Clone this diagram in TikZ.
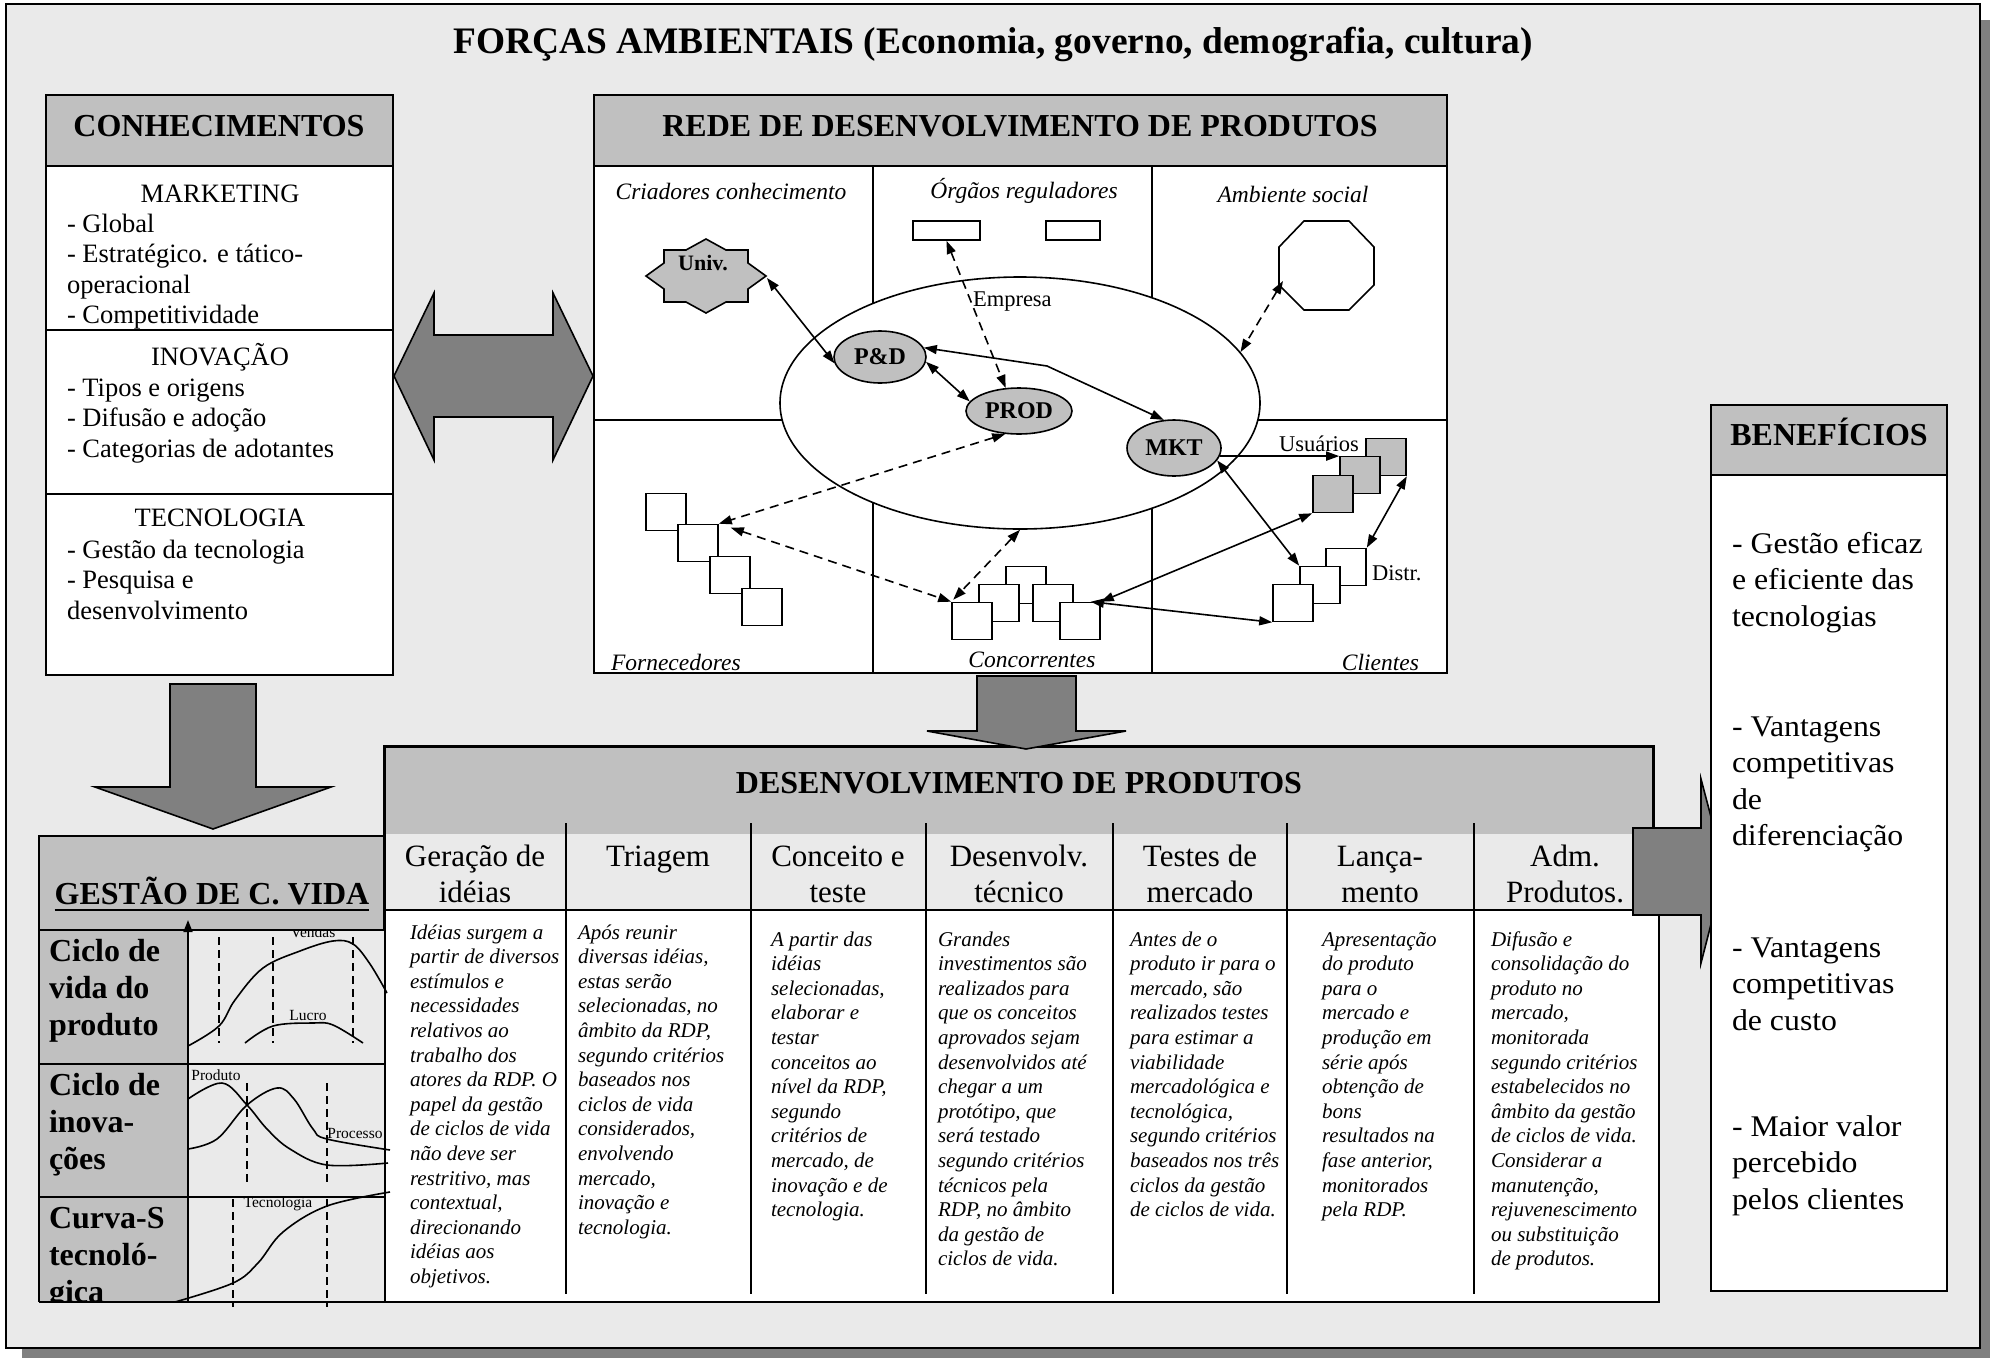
\documentclass[tikz,border=0pt]{standalone}
\usepackage{fontspec}
\setmainfont{Liberation Serif}
\newfontfamily\widefont[FakeStretch=1.06]{Liberation Serif}
\usetikzlibrary{shapes.geometric,arrows.meta,calc}
\definecolor{panel}{HTML}{EAEAEA}
\definecolor{headgray}{HTML}{C0C0C0}
\definecolor{darkfill}{HTML}{808080}
\newcommand\stk[1]{\begin{tabular}[t]{@{}l@{}}#1\end{tabular}}
\newcommand\cstk[1]{\begin{tabular}[t]{@{}c@{}}#1\end{tabular}}
\newcommand\fTitle{\fontsize{37.4}{40}\selectfont\bfseries}
\newcommand\fHead{\fontsize{32}{36}\selectfont\bfseries}
\newcommand\fSec{\fontsize{26.5}{30.5}\selectfont}
\newcommand\fCell{\fontsize{23.5}{27}\selectfont\itshape}
\newcommand\fNode{\fontsize{24}{26}\selectfont\bfseries}
\newcommand\fSmall{\fontsize{22.5}{26}\selectfont}
\newcommand\fPhase{\fontsize{31}{36}\selectfont}
\newcommand\fBody{\fontsize{21}{24.6}\selectfont\itshape}
\newcommand\fRow{\fontsize{32}{37}\selectfont\bfseries}
\newcommand\fChart{\fontsize{15.5}{17}\selectfont}
\newcommand\fBen{\widefont\fontsize{30}{36.5}\selectfont}
\begin{document}
\begin{tikzpicture}[x=1pt,y=-1pt,
  box/.style={draw=black,line width=1.6pt},
  hdr/.style={box,fill=headgray},
  fatarrow/.style={draw=black,line width=1.6pt,fill=darkfill,line join=miter},
  txt/.style={inner sep=0pt,outer sep=0pt},
  >={Triangle[length=13pt,width=9pt]},
  link/.style={line width=1.6pt,<->},
  dlink/.style={link,dash pattern=on 9pt off 6pt},
  sq/.style={draw,fill=white,line width=1.6pt,minimum width=40pt,minimum height=37pt,inner sep=0pt},
  gsq/.style={sq,fill=headgray},
  org/.style={ellipse,draw,fill=headgray,line width=1.6pt,inner sep=0pt,font=\fNode},
  vdash/.style={line width=1.6pt,dash pattern=on 8pt off 5pt},
  chartline/.style={line width=1.6pt}]
\useasboundingbox (0,0) rectangle (1990,1358);
\fill[white] (0,0) rectangle (1990,1358);
% drop shadow and outer panel
\fill[darkfill] (22,20) rectangle (1990,1358);
\draw[fill=panel,line width=2pt] (6,4) rectangle (1980,1348);
\node[txt,anchor=base,font=\fTitle] (title) at (993,53) {FORÇAS AMBIENTAIS (Economia, governo, demografia, cultura)};

% ---------------- CONHECIMENTOS ----------------
\draw[box,fill=white] (46,166) rectangle (393,675);
\draw[hdr] (46,95) rectangle (393,166);
\node[txt,anchor=base,font=\fHead] (knowhead) at (219,136) {CONHECIMENTOS};
\draw[box] (46,330) -- (393,330) (46,494) -- (393,494);
\node[txt,anchor=base,font=\fSec] (mkth) at (220,202) {MARKETING};
\node[txt,anchor=base west,font=\fSec] (mktl) at (67,232) {\stk{- Global\\- Estratégico. e tático-\\operacional\\- Competitividade}};
\node[txt,anchor=base,font=\fSec] (inovh) at (220,365) {INOVAÇÃO};
\node[txt,anchor=base west,font=\fSec] (inovl) at (67,396) {\stk{- Tipos e origens\\- Difusão e adoção\\- Categorias de adotantes}};
\node[txt,anchor=base,font=\fSec] (tech) at (220,526) {TECNOLOGIA};
\node[txt,anchor=base west,font=\fSec] (tecl) at (67,558) {\stk{- Gestão da tecnologia\\- Pesquisa e\\desenvolvimento}};

% two-way block arrow
\draw[fatarrow] (394,376) -- (434,293) -- (434,335) -- (553,335) -- (553,293) -- (593,376)
  -- (553,460) -- (553,417) -- (434,417) -- (434,460) -- cycle;
% block arrow down to life cycle management
\draw[fatarrow] (170,684) -- (256,684) -- (256,787) -- (331,787) -- (213,829) -- (95,787) -- (170,787) -- cycle;

% ---------------- REDE ----------------
\draw[box,fill=white] (594,166) rectangle (1447,673);
\draw[hdr] (594,95) rectangle (1447,166);
\node[txt,anchor=base,font=\fHead] (redehead) at (1020,136) {REDE DE DESENVOLVIMENTO DE PRODUTOS};
\draw[box] (594,420) -- (1447,420) (873,166) -- (873,673) (1152,166) -- (1152,673);
\node[ellipse,draw,fill=white,line width=1.6pt,inner sep=0pt,minimum width=480pt,minimum height=252pt] (firm) at (1020,403) {};
\node[txt,anchor=base west,font=\fSmall] (firmlbl) at (973,306) {Empresa};

\node[txt,anchor=base,font=\fCell] (cellA) at (731,199) {Criadores conhecimento};
\node[txt,anchor=base,font=\fCell] (cellB) at (1024,198) {Órgãos reguladores};
\node[txt,anchor=base,font=\fCell] (cellC) at (1293,202) {Ambiente social};
\node[txt,anchor=base west,font=\fCell] (cellD) at (611,670) {Fornecedores};
\node[txt,anchor=base,font=\fCell] (cellE) at (1032,667) {Concorrentes};
\node[txt,anchor=base east,font=\fCell] (cellF) at (1419,670) {Clientes};

% university (eight-point star)
\draw[line width=1.6pt,fill=headgray,shift={(706,276)}] (0,-37) -- (20,-26) -- (42,-26) -- (42,-13) -- (60,0)
  -- (42,13) -- (42,26) -- (20,26) -- (0,37) -- (-20,26) -- (-42,26) -- (-42,13) -- (-60,0)
  -- (-42,-13) -- (-42,-26) -- (-20,-26) -- cycle;
\node[txt,font=\fontsize{22}{24}\selectfont\bfseries] (univ) at (703,263) {Univ.};
\coordinate (univE) at (767,278);

% regulators
\node[sq,minimum width=67pt,minimum height=19pt] (reg1) at (946.5,230.5) {};
\node[sq,minimum width=54pt,minimum height=19pt] (reg2) at (1073,230.5) {};

% social environment (octagon)
\draw[line width=1.6pt,fill=white] (1304,221) -- (1349,221) -- (1374,247) -- (1374,285) -- (1349,310)
  -- (1304,310) -- (1279,285) -- (1279,247) -- cycle;
\coordinate (soc) at (1283,281);

% suppliers
\node[sq] (f1) at (666,512) {};
\node[sq] (f2) at (698,543) {};
\node[sq] (f3) at (730,575) {};
\node[sq] (f4) at (762,607) {};
% competitors
\node[sq] (c1) at (1026,585) {};
\node[sq] (c2) at (999,603) {};
\node[sq] (c3) at (1053,603) {};
\node[sq] (c4) at (972,621) {};
\node[sq] (c5) at (1080,621) {};
% distributors
\node[sq] (d1) at (1346,567) {};
\node[sq] (d2) at (1320,585) {};
\node[sq] (d3) at (1293,603) {};
\node[txt,anchor=base west,font=\fSmall] (distlbl) at (1372,580) {Distr.};
% users
\node[gsq] (u1) at (1386,457) {};
\node[gsq] (u2) at (1360,475) {};
\node[gsq] (u3) at (1333,494) {};
\node[txt,anchor=base west,font=\fSmall] (userlbl) at (1279,451) {Usuários};

% company functions
\node[org,minimum width=92pt,minimum height=52pt] (pd) at (880,357) {P\&D};
\node[org,minimum width=106pt,minimum height=46pt] (prod) at (1019,411) {PROD};
\node[org,minimum width=94pt,minimum height=56pt] (mkt) at (1174,448) {MKT};

% network links
\coordinate (bendPM) at (1047,366);
\draw[link] (univE) -- (pd.188);
\draw[link] (pd.12) -- (bendPM) -- (mkt.110);
\draw[link] (pd.-6) -- (prod.169);
\draw[dlink] (reg1.south) -- (prod.120);
\draw[dlink] (soc) -- (firm.13);
\draw[dlink] (prod.239) -- (f2.north east);
\draw[dlink] ([xshift=12pt,yshift=-4pt]f2.north east) -- (c4.north west);
\draw[dlink] (firm.south) -- ([xshift=2pt,yshift=2pt]c4.north west);
\draw[line width=1.6pt,->] (mkt.-10) -- (mkt.-10 -| u2.west);
\draw[link] (mkt.-16) -- (d2.north west);
\draw[link] (u3.south west) -- (c5.north east);
\draw[link] ([xshift=-10pt]c5.north east) -- (d3.south west);
\draw[link] (u1.south east) -- (d1.north east);

% ---------------- DESENVOLVIMENTO DE PRODUTOS ----------------
\fill[panel] (384,834) rectangle (1659,910);
\fill[white] (384,910) rectangle (1659,1302);
\fill[headgray] (384,746) rectangle (1653,834);
\draw[line width=1.6pt] (384,910) -- (1659,910);
\draw[line width=1.6pt] (1659,834) -- (1659,1302) -- (384,1302);
\draw[line width=3pt] (384,1302) -- (384,746) -- (1653,746) -- (1653,834);
\node[txt,anchor=base,font=\fHead] (devhead) at (1019,793) {DESENVOLVIMENTO DE PRODUTOS};
\foreach \x in {566,751,926,1113,1287,1474} \draw[line width=1.6pt] (\x,823) -- (\x,1294);

\node[txt,anchor=base,font=\fPhase] (ph1) at (475,866) {\cstk{Geração de\\idéias}};
\node[txt,anchor=base,font=\fPhase] (ph2) at (658,866) {\cstk{Triagem}};
\node[txt,anchor=base,font=\fPhase] (ph3) at (838,866) {\cstk{Conceito e\\teste}};
\node[txt,anchor=base,font=\fPhase] (ph4) at (1019,866) {\cstk{Desenvolv.\\técnico}};
\node[txt,anchor=base,font=\fPhase] (ph5) at (1200,866) {\cstk{Testes de\\mercado}};
\node[txt,anchor=base,font=\fPhase] (ph6) at (1380,866) {\cstk{Lança-\\mento}};
\node[txt,anchor=base,font=\fPhase] (ph7) at (1565,866) {\cstk{Adm.\\Produtos.}};

\node[txt,anchor=base west,font=\fBody] (tx1) at (410,939) {\stk{Idéias surgem a\\partir de diversos\\estímulos e\\necessidades\\relativos ao\\trabalho dos\\atores da RDP. O\\papel da gestão\\de ciclos de vida\\não deve ser\\restritivo, mas\\contextual,\\direcionando\\idéias aos\\objetivos.}};
\node[txt,anchor=base west,font=\fBody] (tx2) at (578,939) {\stk{Após reunir\\diversas idéias,\\estas serão\\selecionadas, no\\âmbito da RDP,\\segundo critérios\\baseados nos\\ciclos de vida\\considerados,\\envolvendo\\mercado,\\inovação e\\tecnologia.}};
\node[txt,anchor=base west,font=\fBody] (tx3) at (771,946) {\stk{A partir das\\idéias\\selecionadas,\\elaborar e\\testar\\conceitos ao\\nível da RDP,\\segundo\\critérios de\\mercado, de\\inovação e de\\tecnologia.}};
\node[txt,anchor=base west,font=\fBody] (tx4) at (938,946) {\stk{Grandes\\investimentos são\\realizados para\\que os conceitos\\aprovados sejam\\desenvolvidos até\\chegar a um\\protótipo, que\\será testado\\segundo critérios\\técnicos pela\\RDP, no âmbito\\da gestão de\\ciclos de vida.}};
\node[txt,anchor=base west,font=\fBody] (tx5) at (1130,946) {\stk{Antes de o\\produto ir para o\\mercado, são\\realizados testes\\para estimar a\\viabilidade\\mercadológica e\\tecnológica,\\segundo critérios\\baseados nos três\\ciclos da gestão\\de ciclos de vida.}};
\node[txt,anchor=base west,font=\fBody] (tx6) at (1322,946) {\stk{Apresentação\\do produto\\para o\\mercado e\\produção em\\série após\\obtenção de\\bons\\resultados na\\fase anterior,\\monitorados\\pela RDP.}};
\node[txt,anchor=base west,font=\fBody] (tx7) at (1491,946) {\stk{Difusão e\\consolidação do\\produto no\\mercado,\\monitorada\\segundo critérios\\estabelecidos no\\âmbito da gestão\\de ciclos de vida.\\Considerar a\\manutenção,\\rejuvenescimento\\ou substituição\\de produtos.}};

% block arrow down from the network
\draw[fatarrow] (977,676) -- (1076,676) -- (1076,731) -- (1126,731) -- (1026,749) -- (927,731) -- (977,731) -- cycle;
% block arrow towards the benefits
\draw[fatarrow] (1633,828) -- (1701,828) -- (1701,779) -- (1725,870) -- (1701,963) -- (1701,915) -- (1633,915) -- cycle;

% ---------------- GESTÃO DE C. VIDA ----------------
\fill[headgray] (39,930) rectangle (188,1302);
\fill[panel] (188,930) rectangle (384,1302);
\begin{scope}
  \clip (39,930) rectangle (188,1302);
  \node[txt,anchor=base west,font=\fRow] (row1) at (49,961) {\stk{Ciclo de\\vida do\\produto}};
  \node[txt,anchor=base west,font=\fRow] (row2) at (49,1095) {\stk{Ciclo de\\inova-\\ções}};
  \node[txt,anchor=base west,font=\fRow] (row3) at (49,1228) {\stk{Curva-S\\tecnoló-\\gica}};
\end{scope}
% product life cycle
\foreach \x in {219,273,353} \draw[vdash] (\x,937) -- (\x,1043);
\draw[chartline] plot[smooth,tension=0.6] coordinates {(188,1046) (219,1026) (235,1000) (263,968) (300,951) (333,941) (353,944) (370,964) (387,993)};
\draw[chartline] plot[smooth,tension=0.6] coordinates {(245,1043) (273,1026) (313,1023) (333,1025) (363,1043)};
\node[txt,font=\fChart] (vendas) at (313,932) {Vendas};
\node[txt,font=\fChart] (lucro) at (308,1015) {Lucro};
% innovation cycles
\foreach \x in {247,327} \draw[vdash] (\x,1083) -- (\x,1185);
\draw[chartline] plot[smooth,tension=0.6] coordinates {(188,1099) (222,1083) (247,1105) (267,1129) (290,1149) (327,1165) (388,1163)};
\draw[chartline] plot[smooth,tension=0.6] coordinates {(188,1149) (217,1139) (247,1105) (277,1088) (294,1099) (313,1129) (327,1139) (390,1150)};
\node[txt,font=\fChart] (produto) at (216,1075) {Produto};
\node[txt,font=\fChart] (processo) at (355,1133) {Processo};
% technology S-curve
\foreach \x in {233,327} \draw[vdash] (\x,1199) -- (\x,1307);
\draw[chartline] plot[smooth,tension=0.6] coordinates {(175,1302) (233,1283) (258,1263) (283,1232) (327,1206) (390,1192)};
\node[txt,font=\fChart] (tecno) at (278,1204) {Tecnologia};

\draw[hdr] (39,836) rectangle (384,930);
\node[txt,anchor=base,font=\fHead] (lifehead) at (212,904) {GESTÃO DE C. VIDA};
\draw[line width=2pt] ([yshift=-6pt]lifehead.base west) -- ([yshift=-6pt]lifehead.base east);
\draw[box] (39,1064) -- (384,1064) (39,1197) -- (384,1197) (39,1302) -- (384,1302) (39,930) -- (39,1302);
\draw[line width=1.6pt,-{Triangle[length=12pt,width=9pt]}] (188,1302) -- (188,920);

% ---------------- BENEFÍCIOS ----------------
\draw[box,fill=white] (1711,475) rectangle (1947,1291);
\draw[hdr] (1711,405) rectangle (1947,475);
\node[txt,anchor=base,font=\fHead] (benhead) at (1829,445) {BENEFÍCIOS};
\node[txt,anchor=base west,font=\fBen] (ben1) at (1732,553) {\stk{- Gestão eficaz\\e eficiente das\\tecnologias}};
\node[txt,anchor=base west,font=\fBen] (ben2) at (1732,736) {\stk{- Vantagens\\competitivas\\de\\diferenciação}};
\node[txt,anchor=base west,font=\fBen] (ben3) at (1732,957) {\stk{- Vantagens\\competitivas\\de custo}};
\node[txt,anchor=base west,font=\fBen] (ben4) at (1732,1136) {\stk{- Maior valor\\percebido\\pelos clientes}};
\end{tikzpicture}
\end{document}
